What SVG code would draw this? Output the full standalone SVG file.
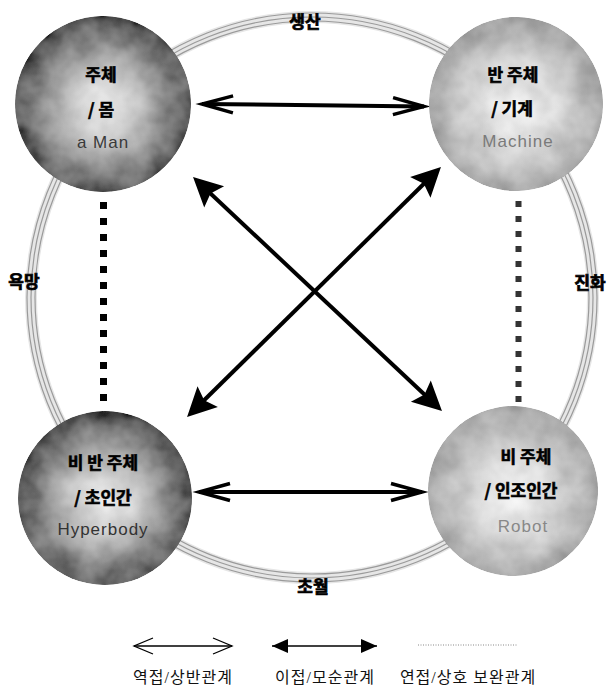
<svg xmlns="http://www.w3.org/2000/svg" width="608" height="695" viewBox="0 0 608 695">
  <style>
    .ko { font-family: "Noto Sans CJK KR", "Liberation Sans", sans-serif; font-weight: bold; fill: #000; stroke: #000; stroke-width: 0.6; text-anchor: middle; }
    .lat { font-family: "Liberation Sans", Arial, sans-serif; text-anchor: middle; letter-spacing: 1px; }
    .ringlbl { font-family: "Noto Sans CJK KR", sans-serif; font-weight: bold; font-size: 17px; fill: #000; stroke: #000; stroke-width: 0.7; text-anchor: middle; }
    .legend { font-family: "Liberation Serif", "Noto Sans CJK KR", serif; font-size: 16px; fill: #111; text-anchor: middle; letter-spacing: 1px; }
    .ring-base { fill: none; stroke: #e6e6e6; stroke-width: 12; }
    .ring-line { fill: none; stroke: #9a9a9a; stroke-width: 1.2; }
    .thick { stroke: #000; stroke-width: 4; fill: none; }
    .thin { stroke: #000; stroke-width: 1.3; fill: none; }
  </style>
  <defs>
    <radialGradient id="darkSphere" cx="50%" cy="52%" r="52%">
      <stop offset="0" stop-color="#eeeeee"/>
      <stop offset="0.3" stop-color="#cfcfcf"/>
      <stop offset="0.65" stop-color="#959595"/>
      <stop offset="0.88" stop-color="#676767"/>
      <stop offset="1" stop-color="#505050"/>
    </radialGradient>
    <radialGradient id="lightSphere" cx="50%" cy="52%" r="52%">
      <stop offset="0" stop-color="#f4f4f4"/>
      <stop offset="0.4" stop-color="#dcdcdc"/>
      <stop offset="0.75" stop-color="#bcbcbc"/>
      <stop offset="1" stop-color="#a2a2a2"/>
    </radialGradient>
    <!-- mottled surface for the spheres -->
    <filter id="mottle" x="-5%" y="-5%" width="110%" height="110%">
      <feTurbulence type="fractalNoise" baseFrequency="0.04" numOctaves="3" seed="7" result="noise"/>
      <feColorMatrix in="noise" type="matrix" values="1 0 0 0 0  1 0 0 0 0  1 0 0 0 0  0 0 0 0 1" result="grey"/>
      <feComposite in="SourceGraphic" in2="grey" operator="arithmetic" k1="0" k2="1" k3="0.3" k4="-0.15" result="mix"/>
      <feComposite in="mix" in2="SourceGraphic" operator="in"/>
    </filter>
    <!-- filled triangular head, tip placed 20px beyond the line end -->
    <marker id="solidHead" markerUnits="userSpaceOnUse" viewBox="-50 -16 52 32" markerWidth="52" markerHeight="32" refX="-20" refY="0" orient="auto-start-reverse" overflow="visible">
      <path d="M0,0 L-29,-14.5 L-24,0 L-29,14.5 Z" fill="#000"/>
    </marker>
    <!-- open chevron head -->
    <marker id="openHead" markerUnits="userSpaceOnUse" viewBox="-34 -12 36 24" markerWidth="36" markerHeight="24" refX="0" refY="0" orient="auto-start-reverse" overflow="visible">
      <path d="M-31,-8.5 L0,0 L-31,8.5" fill="none" stroke="#000" stroke-width="3.5" stroke-linejoin="miter"/>
    </marker>
    <marker id="openHeadSmall" markerUnits="userSpaceOnUse" viewBox="-22 -10 24 20" markerWidth="24" markerHeight="20" refX="0" refY="0" orient="auto-start-reverse" overflow="visible">
      <path d="M-19,-8 L0,0 L-19,8" fill="none" stroke="#000" stroke-width="1.3"/>
    </marker>
    <marker id="solidHeadSmall" markerUnits="userSpaceOnUse" viewBox="-18 -8 20 16" markerWidth="20" markerHeight="16" refX="0" refY="0" orient="auto-start-reverse" overflow="visible">
      <path d="M0,0 L-16,-7 L-16,7 Z" fill="#000"/>
    </marker>
  </defs>

  <rect width="608" height="695" fill="#fff"/>

  <!-- outer ring through the four spheres -->
  <g id="ring">
    <ellipse class="ring-base" cx="312" cy="297.5" rx="281" ry="280.5"/>
    <ellipse class="ring-line" cx="312" cy="297.5" rx="277" ry="276.5"/>
    <ellipse class="ring-line" cx="312" cy="297.5" rx="281" ry="280.5"/>
    <ellipse class="ring-line" cx="312" cy="297.5" rx="285" ry="284.5"/>
  </g>

  <g id="connectors">
    <!-- complementary links (dotted) -->
    <line x1="103.5" y1="202" x2="103.5" y2="402" stroke="#000" stroke-width="7" stroke-dasharray="7 9"/>
    <line x1="518.5" y1="201" x2="518.5" y2="402" stroke="#333" stroke-width="6" stroke-dasharray="6 9"/>
    <!-- contrary links (open heads) -->
    <line class="thick" x1="202" y1="104" x2="424" y2="106.5" stroke-width="3.5" marker-start="url(#openHead)" marker-end="url(#openHead)"/>
    <line class="thick" x1="199" y1="492" x2="422" y2="492" stroke-width="3.5" marker-start="url(#openHead)" marker-end="url(#openHead)"/>
    <!-- contradictory links (filled heads) -->
    <line class="thick" x1="207.6" y1="190.7" x2="427.4" y2="397.3" marker-start="url(#solidHead)" marker-end="url(#solidHead)"/>
    <line class="thick" x1="201.3" y1="403" x2="426.7" y2="181" marker-start="url(#solidHead)" marker-end="url(#solidHead)"/>
  </g>

  <g id="node-man">
    <circle cx="103" cy="104" r="88" fill="url(#darkSphere)" filter="url(#mottle)"/>
    <text class="ko" x="101" y="81" font-size="17">주체</text>
    <text class="ko" x="101" y="116" font-size="17">/ 몸</text>
    <text class="lat" x="103" y="148" font-size="17" fill="#3a3a3a">a Man</text>
  </g>

  <g id="node-machine">
    <circle cx="516" cy="104" r="87" fill="url(#lightSphere)" filter="url(#mottle)"/>
    <text class="ko" x="513" y="81" font-size="17">반 주체</text>
    <text class="ko" x="512" y="115" font-size="17">/ 기계</text>
    <text class="lat" x="518" y="147" font-size="17" fill="#7a7a7a">Machine</text>
  </g>

  <g id="node-hyperbody">
    <circle cx="105" cy="498" r="87" fill="url(#darkSphere)" filter="url(#mottle)"/>
    <text class="ko" x="103" y="469" font-size="17">비 반 주체</text>
    <text class="ko" x="103" y="504" font-size="17">/ 초인간</text>
    <text class="lat" x="103" y="535" font-size="17" fill="#333">Hyperbody</text>
  </g>

  <g id="node-robot">
    <circle cx="513" cy="491" r="85" fill="url(#lightSphere)" filter="url(#mottle)"/>
    <text class="ko" x="526" y="463" font-size="17">비 주체</text>
    <text class="ko" x="521" y="497" font-size="17">/ 인조인간</text>
    <text class="lat" x="523" y="532" font-size="17" fill="#888">Robot</text>
  </g>

  <!-- ring labels -->
  <g id="ring-labels">
    <text class="ringlbl" x="305" y="28">생산</text>
    <text class="ringlbl" x="24" y="288">욕망</text>
    <text class="ringlbl" x="590" y="289">진화</text>
    <text class="ringlbl" x="313" y="593">초월</text>
  </g>

  <g id="legend">
    <line class="thin" x1="134" y1="646" x2="232" y2="646" marker-start="url(#openHeadSmall)" marker-end="url(#openHeadSmall)"/>
    <line class="thin" x1="272" y1="646" x2="377" y2="646" marker-start="url(#solidHeadSmall)" marker-end="url(#solidHeadSmall)"/>
    <line x1="418" y1="645" x2="518" y2="645" stroke="#888" stroke-width="1" stroke-dasharray="1 1.5"/>
    <text class="legend" x="183" y="683">역접/상반관계</text>
    <text class="legend" x="325" y="683">이접/모순관계</text>
    <text class="legend" x="468" y="683">연접/상호 보완관계</text>
  </g>
</svg>
